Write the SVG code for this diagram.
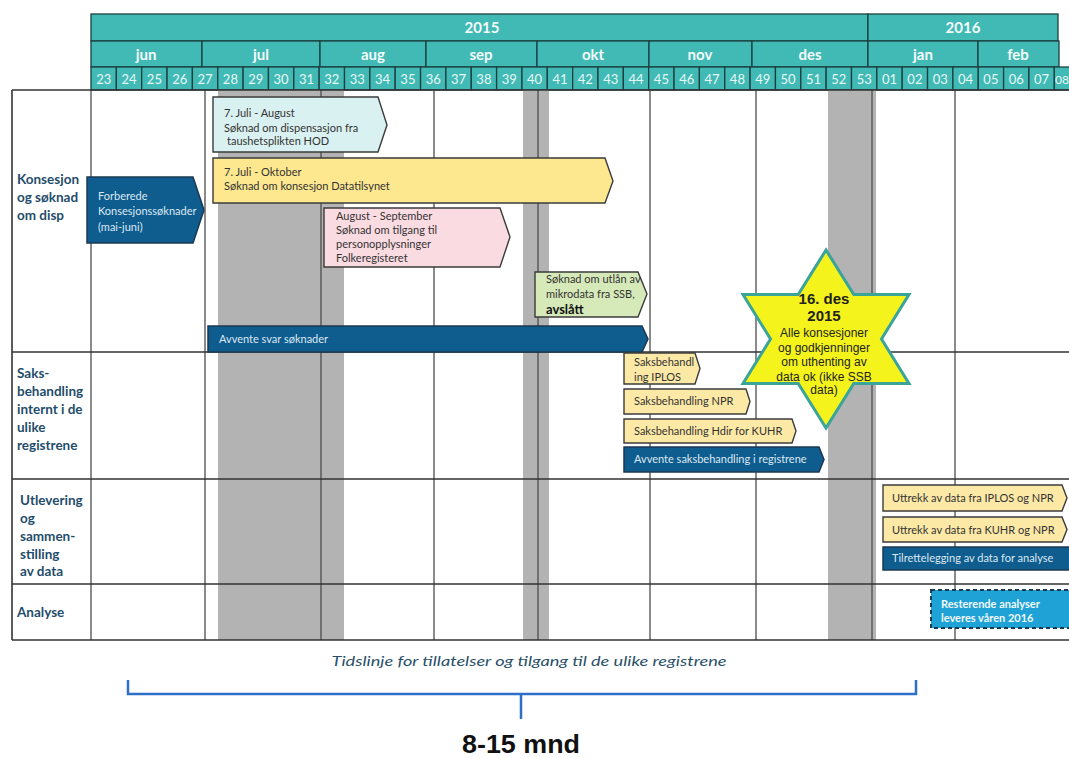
<svg xmlns="http://www.w3.org/2000/svg" width="1069" height="758" viewBox="0 0 1069 758">
  <defs>
    <style>
      .hdr { fill: #41bab5; stroke: #1b3f3f; stroke-width: 1.3; }
      .yr { font-family: "Lato", "Liberation Sans", sans-serif; font-weight: bold; font-size: 15px; fill: #f4fbfb; text-anchor: middle; }
      .mo { font-family: "Lato", "Liberation Sans", sans-serif; font-weight: bold; font-size: 15px; fill: #f4fbfb; text-anchor: middle; }
      .wk { font-family: "Lato", "Liberation Sans", sans-serif; font-size: 13px; fill: #e8f7f6; text-anchor: middle; }
      .band { fill: #b3b3b3; }
      .grid { stroke: #4d4d4d; stroke-width: 1.3; fill: none; }
      .frame { stroke: #333; stroke-width: 1.6; fill: none; }
      .row { font-family: "Lato", "Liberation Sans", sans-serif; font-weight: bold; font-size: 13.5px; fill: #1f4d6b; }
      .dk { fill: #0f5c8e; stroke: #1c3850; stroke-width: 1.5; }
      .lt { stroke: #3b3b3b; stroke-width: 1.4; }
      .bt { font-family: "Lato", "Liberation Sans", sans-serif; font-size: 11px; fill: #333; }
      .bw { font-family: "Lato", "Liberation Sans", sans-serif; font-size: 11px; fill: #dce9f2; }
      .bb { font-family: "Lato", "Liberation Sans", sans-serif; font-size: 11px; font-weight: bold; fill: #f2f9fc; }
      .st { font-family: "Liberation Sans", Arial, sans-serif; fill: #222; text-anchor: middle; }
    </style>
  </defs>
  <rect width="1069" height="758" fill="#ffffff"/>

  <!-- Calendar header: years, months, weeks -->
  <g id="header">
    <rect class="hdr" x="91" y="14" width="777" height="27"/>
    <rect class="hdr" x="868" y="14" width="190" height="27"/>
    <text class="yr" x="482" y="33">2015</text>
    <text class="yr" x="963" y="33">2016</text>

    <rect class="hdr" x="91" y="41" width="111" height="26"/>
    <rect class="hdr" x="202" y="41" width="118" height="26"/>
    <rect class="hdr" x="320" y="41" width="106" height="26"/>
    <rect class="hdr" x="426" y="41" width="111" height="26"/>
    <rect class="hdr" x="537" y="41" width="112" height="26"/>
    <rect class="hdr" x="649" y="41" width="103" height="26"/>
    <rect class="hdr" x="752" y="41" width="116" height="26"/>
    <rect class="hdr" x="868" y="41" width="110" height="26"/>
    <rect class="hdr" x="978" y="41" width="81" height="26"/>
    <text class="mo" x="146" y="60">jun</text>
    <text class="mo" x="261" y="60">jul</text>
    <text class="mo" x="373" y="60">aug</text>
    <text class="mo" x="481" y="60">sep</text>
    <text class="mo" x="593" y="60">okt</text>
    <text class="mo" x="700" y="60">nov</text>
    <text class="mo" x="810" y="60">des</text>
    <text class="mo" x="923" y="60">jan</text>
    <text class="mo" x="1018" y="60">feb</text>

    <rect class="hdr" x="91" y="67" width="25.35" height="23"/>
    <rect class="hdr" x="116.35" y="67" width="25.35" height="23"/>
    <rect class="hdr" x="141.7" y="67" width="25.35" height="23"/>
    <rect class="hdr" x="167.05" y="67" width="25.35" height="23"/>
    <rect class="hdr" x="192.4" y="67" width="25.35" height="23"/>
    <rect class="hdr" x="217.75" y="67" width="25.35" height="23"/>
    <rect class="hdr" x="243.1" y="67" width="25.35" height="23"/>
    <rect class="hdr" x="268.45" y="67" width="25.35" height="23"/>
    <rect class="hdr" x="293.8" y="67" width="25.35" height="23"/>
    <rect class="hdr" x="319.15" y="67" width="25.35" height="23"/>
    <rect class="hdr" x="344.5" y="67" width="25.35" height="23"/>
    <rect class="hdr" x="369.85" y="67" width="25.35" height="23"/>
    <rect class="hdr" x="395.2" y="67" width="25.35" height="23"/>
    <rect class="hdr" x="420.55" y="67" width="25.35" height="23"/>
    <rect class="hdr" x="445.9" y="67" width="25.35" height="23"/>
    <rect class="hdr" x="471.25" y="67" width="25.35" height="23"/>
    <rect class="hdr" x="496.6" y="67" width="25.35" height="23"/>
    <rect class="hdr" x="521.95" y="67" width="25.35" height="23"/>
    <rect class="hdr" x="547.3" y="67" width="25.35" height="23"/>
    <rect class="hdr" x="572.65" y="67" width="25.35" height="23"/>
    <rect class="hdr" x="598" y="67" width="25.35" height="23"/>
    <rect class="hdr" x="623.35" y="67" width="25.35" height="23"/>
    <rect class="hdr" x="648.7" y="67" width="25.35" height="23"/>
    <rect class="hdr" x="674.05" y="67" width="25.35" height="23"/>
    <rect class="hdr" x="699.4" y="67" width="25.35" height="23"/>
    <rect class="hdr" x="724.75" y="67" width="25.35" height="23"/>
    <rect class="hdr" x="750.1" y="67" width="25.35" height="23"/>
    <rect class="hdr" x="775.45" y="67" width="25.35" height="23"/>
    <rect class="hdr" x="800.8" y="67" width="25.35" height="23"/>
    <rect class="hdr" x="826.15" y="67" width="25.35" height="23"/>
    <rect class="hdr" x="851.5" y="67" width="25.35" height="23"/>
    <rect class="hdr" x="876.85" y="67" width="25.35" height="23"/>
    <rect class="hdr" x="902.2" y="67" width="25.35" height="23"/>
    <rect class="hdr" x="927.55" y="67" width="25.35" height="23"/>
    <rect class="hdr" x="952.9" y="67" width="25.35" height="23"/>
    <rect class="hdr" x="978.25" y="67" width="25.35" height="23"/>
    <rect class="hdr" x="1003.6" y="67" width="25.35" height="23"/>
    <rect class="hdr" x="1028.95" y="67" width="25.35" height="23"/>
    <rect class="hdr" x="1054.3" y="67" width="25.35" height="23"/>
    <text class="wk" x="103.7" y="84">23</text>
    <text class="wk" x="129" y="84">24</text>
    <text class="wk" x="154.4" y="84">25</text>
    <text class="wk" x="179.7" y="84">26</text>
    <text class="wk" x="205.1" y="84">27</text>
    <text class="wk" x="230.4" y="84">28</text>
    <text class="wk" x="255.8" y="84">29</text>
    <text class="wk" x="281.1" y="84">30</text>
    <text class="wk" x="306.5" y="84">31</text>
    <text class="wk" x="331.8" y="84">32</text>
    <text class="wk" x="357.2" y="84">33</text>
    <text class="wk" x="382.5" y="84">34</text>
    <text class="wk" x="407.9" y="84">35</text>
    <text class="wk" x="433.2" y="84">36</text>
    <text class="wk" x="458.6" y="84">37</text>
    <text class="wk" x="483.9" y="84">38</text>
    <text class="wk" x="509.3" y="84">39</text>
    <text class="wk" x="534.6" y="84">40</text>
    <text class="wk" x="560" y="84">41</text>
    <text class="wk" x="585.3" y="84">42</text>
    <text class="wk" x="610.7" y="84">43</text>
    <text class="wk" x="636" y="84">44</text>
    <text class="wk" x="661.4" y="84">45</text>
    <text class="wk" x="686.7" y="84">46</text>
    <text class="wk" x="712.1" y="84">47</text>
    <text class="wk" x="737.4" y="84">48</text>
    <text class="wk" x="762.8" y="84">49</text>
    <text class="wk" x="788.1" y="84">50</text>
    <text class="wk" x="813.5" y="84">51</text>
    <text class="wk" x="838.8" y="84">52</text>
    <text class="wk" x="864.2" y="84">53</text>
    <text class="wk" x="889.5" y="84">01</text>
    <text class="wk" x="914.9" y="84">02</text>
    <text class="wk" x="940.2" y="84">03</text>
    <text class="wk" x="965.6" y="84">04</text>
    <text class="wk" x="990.9" y="84">05</text>
    <text class="wk" x="1016.3" y="84">06</text>
    <text class="wk" x="1041.6" y="84">07</text>
    <text class="wk" x="1062" y="84" style="font-size:12px">08</text>
  </g>

  <!-- Holiday bands and grid -->
  <g id="grid">
    <rect class="band" x="218" y="90" width="126" height="550"/>
    <rect class="band" x="523" y="90" width="26" height="550"/>
    <rect class="band" x="828" y="90" width="48" height="550"/>
    <path class="grid" d="M91,90V640M205,90V640M321,90V640M434,90V640M538,90V640M650,90V640M756,90V640M872,90V640M955,90V640"/>
    <path class="frame" d="M12,90H1069M12,352H1069M12,479H1069M12,584H1069M12,640H1069M12,90V640"/>
  </g>

  <!-- Row labels -->
  <g id="row-konsesjon">
    <text class="row" x="17" y="184">Konsesjon</text>
    <text class="row" x="17" y="202">og søknad</text>
    <text class="row" x="17" y="220">om disp</text>
  </g>
  <g id="row-saksbehandling">
    <text class="row" x="17" y="378">Saks-</text>
    <text class="row" x="17" y="396">behandling</text>
    <text class="row" x="17" y="414">internt i de</text>
    <text class="row" x="17" y="432">ulike</text>
    <text class="row" x="17" y="450">registrene</text>
  </g>
  <g id="row-utlevering">
    <text class="row" x="20" y="505">Utlevering</text>
    <text class="row" x="20" y="523">og</text>
    <text class="row" x="20" y="541">sammen-</text>
    <text class="row" x="20" y="559">stilling</text>
    <text class="row" x="20" y="576">av data</text>
  </g>
  <g id="row-analyse">
    <text class="row" x="17" y="617">Analyse</text>
  </g>

  <!-- Activity bars -->
  <g id="forberede">
    <path class="dk" d="M87,177H193L204,210L193,243H87Z"/>
    <text class="bw" x="98" y="200">Forberede</text>
    <text class="bw" x="98" y="215">Konsesjonssøknader</text>
    <text class="bw" x="98" y="231">(mai-juni)</text>
  </g>
  <g id="dispensasjon">
    <path class="lt" fill="#daf1f1" d="M213,97H378L387,125L378,152H213Z"/>
    <text class="bt" x="224" y="117">7. Juli - August</text>
    <text class="bt" x="224" y="132">Søknad om dispensasjon fra</text>
    <text class="bt" x="227" y="145">taushetsplikten HOD</text>
  </g>
  <g id="konsesjon-datatilsynet">
    <path class="lt" fill="#fde890" d="M213,158H605L613,181L605,203H213Z"/>
    <text class="bt" x="224" y="176">7. Juli - Oktober</text>
    <text class="bt" x="224" y="190">Søknad om konsesjon Datatilsynet</text>
  </g>
  <g id="folkeregisteret">
    <path class="lt" fill="#fadbe2" d="M324,208H500L510,237L500,267H324Z"/>
    <text class="bt" x="336" y="220">August - September</text>
    <text class="bt" x="336" y="234">Søknad om tilgang til</text>
    <text class="bt" x="336" y="248">personopplysninger</text>
    <text class="bt" x="336" y="262">Folkeregisteret</text>
  </g>
  <g id="ssb">
    <path class="lt" fill="#d6e9b8" d="M535,272H638L647,294L638,317H535Z"/>
    <text class="bt" x="546" y="283">Søknad om utlån av</text>
    <text class="bt" x="546" y="298">mikrodata fra SSB,</text>
    <text class="bt" x="546" y="314" style="font-weight:bold;font-size:13px;fill:#111">avslått</text>
  </g>
  <g id="avvente-svar">
    <path class="dk" d="M208,326H642L648,339L642,352H208Z"/>
    <text class="bw" x="219" y="343">Avvente svar søknader</text>
  </g>
  <g id="iplos">
    <path class="lt" fill="#fde9a6" d="M624,353H695L700,368.5L695,384H624Z"/>
    <text class="bt" x="634" y="366">Saksbehandl</text>
    <text class="bt" x="634" y="381">ing IPLOS</text>
  </g>
  <g id="npr">
    <path class="lt" fill="#fde9a6" d="M624,389H746L750,401.5L746,414H624Z"/>
    <text class="bt" x="634" y="405">Saksbehandling NPR</text>
  </g>
  <g id="kuhr">
    <path class="lt" fill="#fde9a6" d="M624,419H792L796,431L792,443H624Z"/>
    <text class="bt" x="634" y="435">Saksbehandling Hdir for KUHR</text>
  </g>
  <g id="avvente-registrene">
    <path class="dk" d="M624,447H819L824,459.5L819,472H624Z"/>
    <text class="bw" x="634" y="463">Avvente saksbehandling i registrene</text>
  </g>
  <g id="uttrekk-iplos">
    <path class="lt" fill="#fde9a6" d="M883,485H1062L1067,498L1062,511H883Z"/>
    <text class="bt" x="892" y="502">Uttrekk av data fra IPLOS og NPR</text>
  </g>
  <g id="uttrekk-kuhr">
    <path class="lt" fill="#fde9a6" d="M883,517H1062L1067,529.5L1062,542H883Z"/>
    <text class="bt" x="892" y="534">Uttrekk av data fra KUHR og NPR</text>
  </g>
  <g id="tilrettelegging">
    <rect class="dk" x="883" y="547" width="190" height="23"/>
    <text class="bw" x="892" y="562">Tilrettelegging av data for analyse</text>
  </g>
  <g id="resterende">
    <rect x="931" y="590" width="142" height="38" fill="#1fa2d6" stroke="#1c3a50" stroke-width="2" stroke-dasharray="4 3"/>
    <text class="bb" x="941" y="608">Resterende analyser</text>
    <text class="bb" x="941" y="622">leveres våren 2016</text>
  </g>

  <!-- Milestone star -->
  <g id="milestone">
    <polygon fill="#f4f31c" stroke="#3aa39a" stroke-width="3" points="826,250 853.8,294.5 909,294.5 881.5,339 909,383.5 853.8,383.5 826,428 798.2,383.5 743,383.5 770.5,339 743,294.5 798.2,294.5"/>
    <text class="st" x="824" y="304" font-size="15" font-weight="bold">16. des</text>
    <text class="st" x="824" y="321" font-size="15" font-weight="bold">2015</text>
    <text class="st" x="824" y="337" font-size="12">Alle konsesjoner</text>
    <text class="st" x="824" y="352" font-size="12">og godkjenninger</text>
    <text class="st" x="824" y="366" font-size="12">om uthenting  av</text>
    <text class="st" x="824" y="381" font-size="12">data ok (ikke SSB</text>
    <text class="st" x="824" y="394" font-size="12">data)</text>
  </g>

  <!-- Caption -->
  <g id="caption">
    <text x="529" y="666" font-family="Lato, 'Liberation Sans', sans-serif" font-style="italic" font-size="14" fill="#2a5068" text-anchor="middle" textLength="395" lengthAdjust="spacingAndGlyphs">Tidslinje for tillatelser og tilgang til de ulike registrene</text>
  </g>

  <!-- Span bracket -->
  <g id="connectors">
    <path d="M128,680V694H916V680M521,694V719" fill="none" stroke="#2f6fc6" stroke-width="2.5"/>
  </g>
  <g id="duration">
    <text x="521" y="753" font-family="'Liberation Sans', Arial, sans-serif" font-weight="bold" font-size="25" fill="#111" text-anchor="middle" textLength="118" lengthAdjust="spacingAndGlyphs">8-15 mnd</text>
  </g>
</svg>
